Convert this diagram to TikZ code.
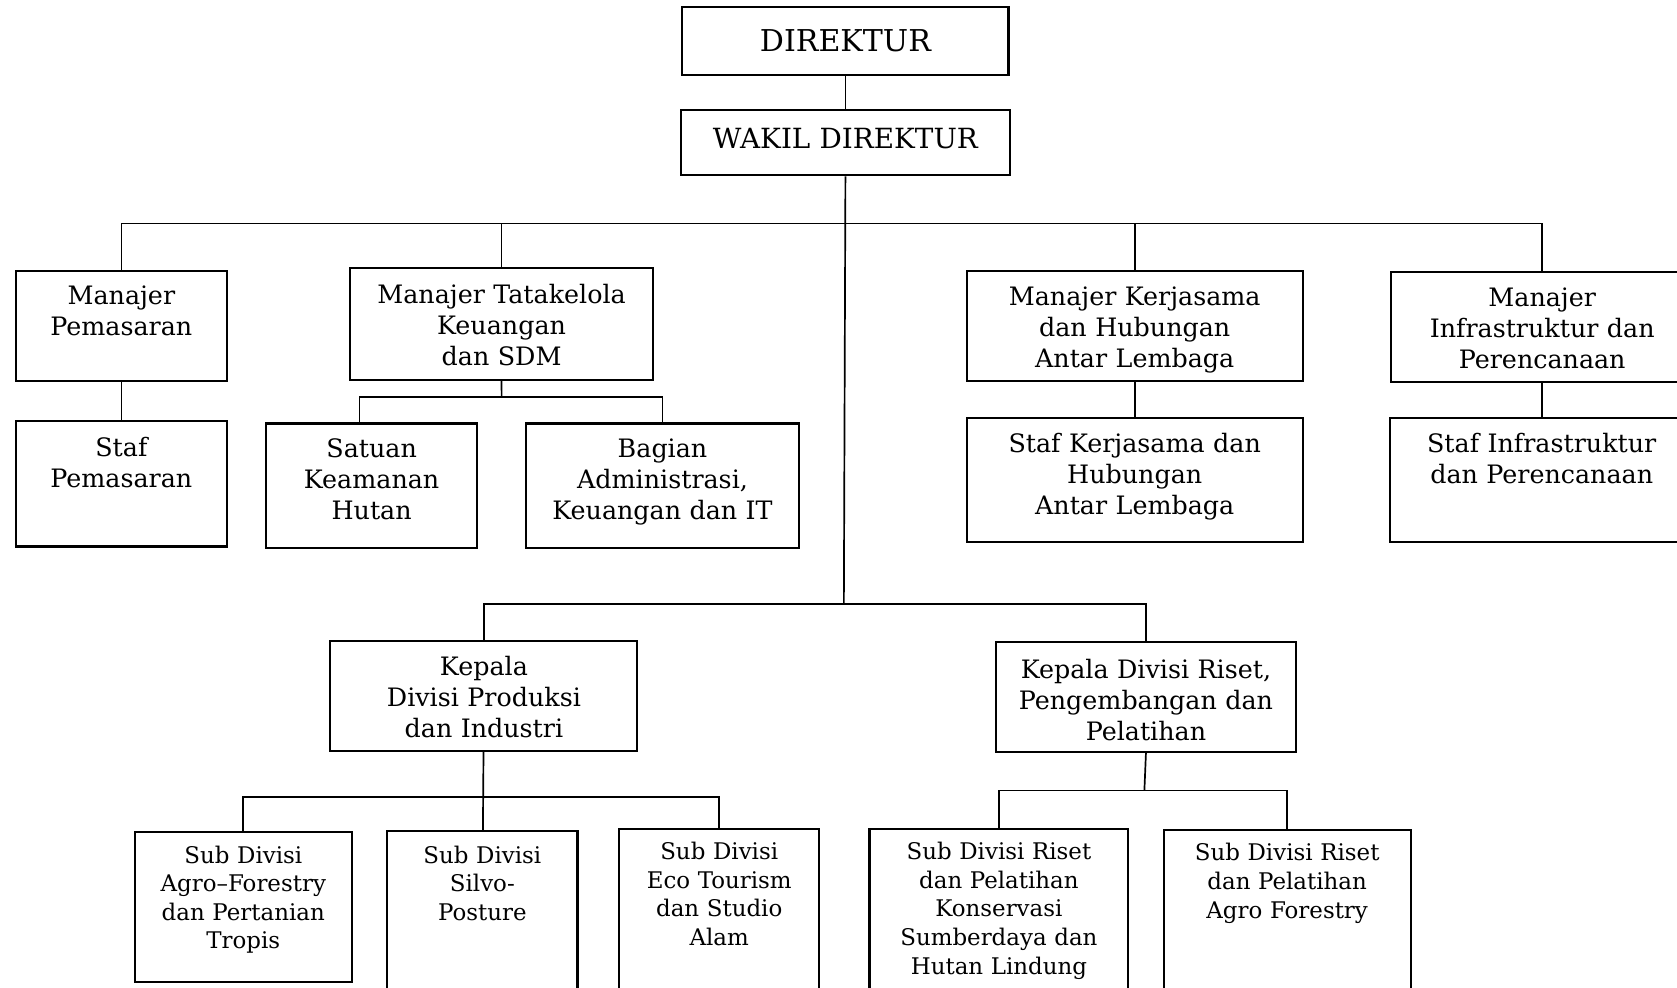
\documentclass[tikz,border=0pt]{standalone}
\usepackage{fontspec}
\setmainfont{DejaVu Serif}
\usetikzlibrary{positioning}

\newlength\unitpx
\setlength\unitpx{0.02cm}

\begin{document}
\begin{tikzpicture}[
        x=0.02cm, y=-0.02cm,
        orgbox/.style n args={3}{draw, line width=1.1pt, inner sep=0pt, anchor=north west, align=center,
            text width=#1\unitpx, text height=#2\unitpx, text depth=#3\unitpx,
            font=\fontsize{13.5}{16.5}\selectfont},
        subbox/.style n args={3}{orgbox={#1}{#2}{#3}, font=\fontsize{12.2}{15.2}\selectfont},
        link/.style={line width=0.9pt}
    ]
    \useasboundingbox (0,0) rectangle (1568,923);
    \clip (0,0) rectangle (1568,923);

    % top
    \node (dir) [orgbox={305}{41}{22}, font=\fontsize{16}{20}\selectfont] at (637,6) {DIREKTUR};
    \node (wakil) [orgbox={307}{36}{25}, font=\fontsize{14.8}{18}\selectfont] at (636,102) {WAKIL DIREKTUR};

    % managers
    \node (mpem) [orgbox={197}{32}{71}] at (14,252) {Manajer\\Pemasaran};
    \node (spem) [orgbox={197}{33}{84}] at (14,393) {Staf\\Pemasaran};
    \node (mtk) [orgbox={284}{33}{71}] at (326,250) {Manajer Tatakelola\\Keuangan\\dan SDM};
    \node (satuan) [orgbox={197}{32}{84}] at (248,395) {Satuan\\Keamanan\\Hutan};
    \node (bagian) [orgbox={255}{32}{84}] at (491,395) {Bagian\\Administrasi,\\Keuangan dan IT};
    \node (mkj) [orgbox={314}{33}{70}] at (903,252) {Manajer Kerjasama\\dan Hubungan\\Antar Lembaga};
    \node (skj) [orgbox={314}{32}{84}] at (903,390) {Staf Kerjasama dan\\Hubungan\\Antar Lembaga};
    \node (minf) [orgbox={282}{33}{70}] at (1300,253) {Manajer\\Infrastruktur dan\\Perencanaan};
    \node (sinf) [orgbox={283}{32}{84}] at (1299,390) {Staf Infrastruktur\\dan Perencanaan};

    % divisions
    \node (kprod) [orgbox={287}{33}{70}] at (308,598) {Kepala\\Divisi Produksi\\dan Industri};
    \node (kriset) [orgbox={281}{34}{69}] at (930,599) {Kepala Divisi Riset,\\Pengembangan dan\\Pelatihan};

    % sub divisions
    \node (sagro) [subbox={203}{29}{111}] at (125,777) {Sub Divisi\\Agro--Forestry\\dan Pertanian\\Tropis};
    \node (ssilvo) [subbox={178}{30}{120}] at (361,776) {Sub Divisi\\Silvo-\\Posture};
    \node (seco) [subbox={187}{29}{123}] at (578,774) {Sub Divisi\\Eco Tourism\\dan Studio\\Alam};
    \node (skons) [subbox={242}{29}{123}] at (812,774) {Sub Divisi Riset\\dan Pelatihan\\Konservasi\\Sumberdaya dan\\Hutan Lindung};
    \node (sagrof) [subbox={231}{29}{122}] at (1087,775) {Sub Divisi Riset\\dan Pelatihan\\Agro Forestry};

    % bus points
    \coordinate (bustop) at (789,209);
    \coordinate (busdiv) at (789,565);
    \coordinate (bustk) at (469,371);
    \coordinate (busprod) at (451,745);
    \coordinate (busriset) at (1070,739);

    \draw [link] (dir) -- (wakil);
    \draw [link] (wakil.south) -- (busdiv);
    \draw [link] (bustop) -| (mpem.north);
    \draw [link] (bustop) -| (mtk.north);
    \draw [link] (bustop) -| (mkj.north);
    \draw [link] (bustop) -| (minf.north);
    \draw [link] (mpem) -- (spem);
    \draw [link] (mtk.south) -- (bustk);
    \draw [link] (bustk) -| (satuan.north -| 336,0);
    \draw [link] (bustk) -| (bagian.north);
    \draw [link] (mkj) -- (skj);
    \draw [link] (minf) -- (sinf);
    \draw [link] (busdiv) -| (kprod.north);
    \draw [link] (busdiv) -| (kriset.north);
    \draw [link] (kprod) -- (ssilvo);
    \draw [link] (busprod) -| (sagro.north);
    \draw [link] (busprod) -| (seco.north);
    \draw [link] (kriset.south) -- (busriset);
    \draw [link] (busriset) -| (skons.north);
    \draw [link] (busriset) -| (sagrof.north);

\end{tikzpicture}
\end{document}
